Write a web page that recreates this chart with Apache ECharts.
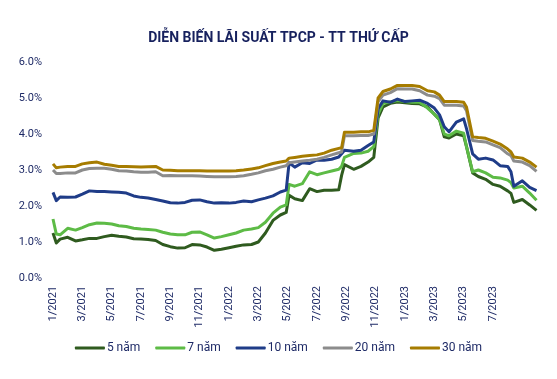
<!DOCTYPE html>
<html><head><meta charset="utf-8">
<script src="https://cdn.jsdelivr.net/npm/echarts@6/dist/echarts.min.js"></script>
<style>html,body{margin:0;padding:0;background:#fff}#c{width:557px;height:379px}</style>
</head><body><div id="c"></div>
<script>
const dates = ['2021-01-01','2021-01-08','2021-01-16','2021-02-01','2021-02-16','2021-03-01','2021-03-16','2021-04-01','2021-04-16','2021-05-01','2021-05-16','2021-06-01','2021-06-16','2021-07-01','2021-07-16','2021-08-01','2021-08-16','2021-09-01','2021-09-16','2021-10-01','2021-10-16','2021-11-01','2021-11-16','2021-12-01','2021-12-16','2022-01-01','2022-01-16','2022-02-01','2022-02-16','2022-03-01','2022-03-16','2022-04-01','2022-04-16','2022-04-28','2022-05-04','2022-05-16','2022-06-01','2022-06-16','2022-07-01','2022-07-16','2022-08-01','2022-08-16','2022-08-22','2022-08-28','2022-09-16','2022-10-01','2022-10-16','2022-10-28','2022-11-06','2022-11-16','2022-12-01','2022-12-16','2023-01-01','2023-01-16','2023-02-01','2023-02-16','2023-03-01','2023-03-12','2023-03-22','2023-04-01','2023-04-16','2023-05-01','2023-05-07','2023-05-20','2023-06-01','2023-06-16','2023-07-01','2023-07-16','2023-08-01','2023-08-08','2023-08-14','2023-09-01','2023-09-16','2023-09-30'];

const y5 = [1.25,0.97,1.08,1.13,1.03,1.06,1.10,1.10,1.15,1.19,1.16,1.14,1.09,1.08,1.07,1.04,0.93,0.87,0.83,0.84,0.93,0.92,0.86,0.77,0.80,0.84,0.88,0.92,0.93,1.00,1.25,1.60,1.75,1.82,2.30,2.20,2.15,2.48,2.40,2.44,2.44,2.45,2.85,3.15,3.02,3.10,3.22,3.35,4.45,4.75,4.85,4.89,4.87,4.85,4.84,4.75,4.55,4.40,3.92,3.89,4.00,3.95,3.65,2.92,2.82,2.74,2.60,2.55,2.42,2.35,2.10,2.18,2.03,1.88];
const y7 = [1.64,1.22,1.20,1.38,1.33,1.40,1.48,1.53,1.52,1.50,1.45,1.43,1.38,1.36,1.35,1.33,1.27,1.22,1.20,1.20,1.27,1.28,1.20,1.11,1.15,1.20,1.25,1.33,1.36,1.40,1.55,1.80,1.97,2.03,2.60,2.55,2.62,2.95,2.87,2.92,2.97,3.02,3.10,3.35,3.46,3.47,3.52,3.65,4.55,4.85,4.89,4.93,4.90,4.88,4.88,4.72,4.55,4.40,4.00,3.95,4.08,4.02,3.65,2.95,3.00,2.92,2.80,2.78,2.72,2.65,2.50,2.55,2.36,2.16];
const y10 = [2.38,2.15,2.25,2.24,2.25,2.33,2.42,2.40,2.40,2.39,2.38,2.36,2.28,2.24,2.22,2.18,2.14,2.09,2.08,2.10,2.16,2.17,2.12,2.08,2.09,2.08,2.10,2.14,2.12,2.17,2.22,2.28,2.39,2.44,3.20,3.08,3.20,3.18,3.28,3.27,3.30,3.36,3.45,3.55,3.52,3.55,3.68,3.78,4.70,4.92,4.88,4.97,4.90,4.92,4.94,4.85,4.72,4.53,4.20,4.06,4.33,4.42,4.15,3.45,3.30,3.33,3.28,3.12,3.10,2.95,2.55,2.70,2.52,2.43];
const y20 = [3.00,2.90,2.90,2.92,2.92,3.00,3.04,3.05,3.05,3.02,2.98,2.97,2.95,2.94,2.94,2.95,2.84,2.85,2.84,2.84,2.84,2.83,2.82,2.81,2.81,2.81,2.82,2.84,2.88,2.92,2.98,3.02,3.08,3.12,3.20,3.22,3.25,3.27,3.30,3.35,3.42,3.48,3.50,3.95,3.95,3.96,3.96,4.00,4.90,5.08,5.15,5.26,5.25,5.25,5.20,5.08,5.05,4.98,4.80,4.80,4.80,4.78,4.65,3.82,3.80,3.78,3.70,3.62,3.45,3.40,3.25,3.22,3.12,2.96];
const y30 = [3.17,3.06,3.08,3.10,3.10,3.17,3.20,3.22,3.16,3.13,3.10,3.10,3.09,3.08,3.09,3.10,3.00,2.99,2.98,2.98,2.98,2.98,2.97,2.97,2.97,2.97,2.98,3.00,3.03,3.06,3.12,3.18,3.22,3.25,3.33,3.35,3.38,3.40,3.42,3.47,3.55,3.60,3.62,4.05,4.05,4.06,4.06,4.10,5.00,5.18,5.25,5.35,5.35,5.35,5.32,5.20,5.17,5.08,4.90,4.90,4.90,4.88,4.75,3.92,3.90,3.88,3.80,3.72,3.58,3.50,3.36,3.33,3.22,3.08];

const seriesNames = ['5 năm','7 năm','10 năm','20 năm','30 năm'];
const seriesColors = ['#2F5B1F','#5DBB46','#1F3C88','#8C8C8C','#A67C00'];
const yTicks = [0,1,2,3,4,5,6];

function monthIndex(s){
  const [Y,M,D] = s.split('-').map(Number);
  const dim = new Date(Y, M, 0).getDate();
  return (Y-2021)*12 + (M-1) + (D-1)/dim;
}
const xs = dates.map(monthIndex);
const allY = [y5,y7,y10,y20,y30];
const navy = '#1E2A66';

const chart = echarts.init(document.getElementById('c'), null, {renderer:'canvas'});
chart.setOption({
  animation:false,
  backgroundColor:'#fff',
  title:{text:'DIỄN BIẾN LÃI SUẤT TPCP - TT THỨ CẤP', left:'center', top:26,
    textStyle:{fontFamily:'Roboto', fontWeight:'bold', fontSize:14, color:'#17215E'}},
  grid:{left:53, right:20, top:62, bottom:101, containLabel:false},
  legend:{bottom:20, left:'center', itemWidth:30, itemHeight:3, itemGap:15, icon:'roundRect',
    data:seriesNames, textStyle:{fontFamily:'Roboto', fontSize:12, color:navy, padding:[0,0,0,-3]}},
  xAxis:{type:'value', min:0, max:33, interval:2,
    axisLine:{show:false}, axisTick:{show:false}, splitLine:{show:false},
    axisLabel:{rotate:90, margin:8, fontFamily:'Roboto', fontSize:11, color:navy,
      showMaxLabel:false,
      formatter:function(v){ if(v>30 || v%1!==0) return ''; const y=2021+Math.floor(v/12); return ((v%12)+1)+'/'+y; }}},
  yAxis:{type:'value', min:yTicks[0], max:yTicks[yTicks.length-1], interval:1,
    axisLine:{show:false}, axisTick:{show:false}, splitLine:{show:false},
    axisLabel:{margin:11, fontFamily:'Roboto', fontSize:11, color:navy, formatter:v=>v.toFixed(1)+'%'}},
  series: seriesNames.map((n,i)=>({
    name:n, type:'line', showSymbol:false, symbol:'none',
    lineStyle:{width:3, color:seriesColors[i], join:'round'},
    itemStyle:{color:seriesColors[i]},
    data: xs.map((x,j)=>[x, allY[i][j]])
  }))
});
</script></body></html>
